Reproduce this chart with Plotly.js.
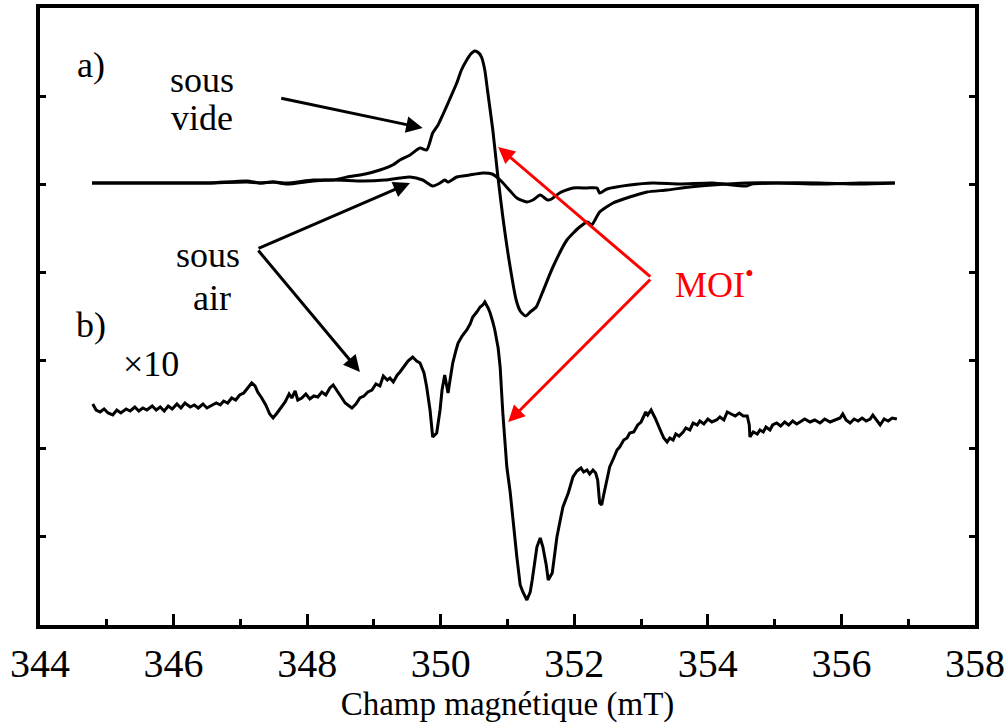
<!DOCTYPE html>
<html>
<head>
<meta charset="utf-8">
<script src="https://cdn.plot.ly/plotly-3.0.1.min.js"></script>
<style>html,body{margin:0;padding:0;background:#fff;}</style>
</head>
<body>
<div id="chart" style="width:1006px;height:724px;"></div>
<script>
// Field (mT) and intensity (arb. units)
const fieldVide = [344.78,345.35,345.95,346.54,347.10,347.29,347.49,347.70,348.09,348.39,348.60,348.87,349.09,349.28,349.39,349.54,349.69,349.79,349.88,349.96,350.03,350.13,350.24,350.31,350.39,350.45,350.51,350.57,350.61,350.66,350.70,350.78,350.85,350.93,351.03,351.13,351.19,351.27,351.34,351.43,351.52,351.68,351.89,352.08,352.20,352.26,352.38,352.58,352.83,353.09,353.39,353.73,354.07,354.58,355.07,355.67,356.27,356.80];
const signalVide = [0,0,0,0,0.2,0,0.1,0,0.3,0.3,0.6,0.9,1.3,1.8,2.3,2.8,3.5,3.3,5.0,5.8,6.8,8.3,10.0,11.3,12.3,12.9,13.2,13.0,12.6,11.3,9.3,5.3,1.0,-3.4,-8.0,-11.7,-12.8,-13.3,-12.9,-12.4,-11.0,-8.4,-5.7,-4.4,-3.9,-4.2,-2.9,-2.0,-1.4,-0.9,-0.7,-0.4,-0.2,0,0,-0.1,0,0];

const fieldAir = [344.78,345.35,345.95,346.54,347.10,347.29,347.49,347.70,348.09,348.39,348.84,349.16,349.39,349.54,349.73,349.88,349.99,350.06,350.11,350.24,350.43,350.63,350.77,350.89,351.04,351.14,351.29,351.38,351.49,351.60,351.66,351.78,351.98,352.19,352.34,352.38,352.49,352.83,353.18,353.58,354.07,354.58,354.66,355.07,355.67,356.27,356.80];
const signalAir = [0,0,0,0,0.1,0,0.1,-0.1,0.2,0.3,0.2,0.3,0.5,0.6,0.3,-0.3,0,0.3,0.1,0.6,0.8,1.0,0.9,0.3,-0.8,-1.5,-1.9,-1.7,-1.2,-1.7,-1.6,-1.0,-0.5,-0.5,-0.5,-1.0,-0.6,-0.2,0,-0.1,0,-0.3,-0.1,0,0,-0.1,0];

const fieldAirX10 = [344.79,344.84,344.90,344.96,345.02,345.09,345.15,345.21,345.29,345.35,345.42,345.48,345.54,345.60,345.68,345.74,345.80,345.86,345.92,345.98,346.05,346.11,346.17,346.25,346.31,346.37,346.44,346.50,346.58,346.64,346.70,346.75,346.81,346.87,346.93,346.99,347.05,347.11,347.17,347.22,347.26,347.32,347.38,347.44,347.49,347.55,347.61,347.67,347.73,347.77,347.82,347.86,347.92,347.98,348.04,348.10,348.16,348.22,348.28,348.34,348.39,348.45,348.51,348.57,348.63,348.67,348.73,348.79,348.85,348.91,348.97,349.03,349.09,349.14,349.20,349.24,349.29,349.35,349.39,349.45,349.51,349.58,349.64,349.69,349.75,349.79,349.84,349.88,349.94,349.99,350.02,350.06,350.11,350.14,350.18,350.23,350.26,350.32,350.39,350.44,350.48,350.54,350.59,350.63,350.66,350.71,350.74,350.78,350.81,350.86,350.89,350.93,350.96,350.99,351.04,351.07,351.11,351.14,351.19,351.23,351.29,351.34,351.37,351.41,351.44,351.49,351.53,351.58,351.61,351.67,351.71,351.74,351.79,351.83,351.91,351.98,352.04,352.10,352.14,352.19,352.23,352.28,352.32,352.35,352.38,352.41,352.44,352.49,352.53,352.59,352.64,352.68,352.74,352.79,352.83,352.89,352.95,353.00,353.03,353.07,353.10,353.15,353.21,353.25,353.30,353.34,353.39,353.43,353.48,353.52,353.57,353.63,353.67,353.73,353.78,353.84,353.88,353.94,354.00,354.06,354.13,354.18,354.24,354.29,354.35,354.41,354.47,354.53,354.59,354.62,354.63,354.68,354.74,354.78,354.83,354.87,354.93,354.97,355.03,355.09,355.15,355.21,355.27,355.33,355.38,355.45,355.53,355.60,355.68,355.75,355.83,355.90,355.98,356.02,356.07,356.13,356.19,356.25,356.31,356.37,356.43,356.47,356.53,356.58,356.64,356.70,356.76,356.83];
const signalAirX10 = [-22.1,-22.7,-22.9,-22.6,-23.0,-23.2,-22.7,-23.0,-22.6,-22.8,-22.4,-22.8,-22.5,-22.7,-22.3,-22.7,-22.4,-22.8,-22.3,-22.6,-22.1,-22.5,-22.0,-22.4,-22.2,-22.5,-22.1,-22.5,-22.2,-22.0,-22.2,-21.8,-22.0,-21.5,-21.7,-21.2,-21.0,-20.5,-20.0,-20.3,-20.9,-21.5,-22.2,-23.1,-23.5,-23.0,-22.4,-21.9,-21.1,-21.5,-20.8,-21.7,-21.5,-21.1,-21.6,-21.3,-21.4,-20.9,-21.2,-20.5,-20.2,-20.8,-21.5,-22.0,-22.3,-22.5,-22.1,-21.5,-21.3,-20.9,-20.7,-20.1,-20.3,-19.3,-19.7,-19.5,-19.9,-19.2,-18.9,-18.3,-17.8,-17.4,-17.8,-18.0,-19.0,-20.4,-22.7,-25.4,-25.0,-22.7,-20.7,-19.2,-21.0,-19.7,-18.0,-16.7,-16.0,-15.3,-14.7,-14.1,-13.4,-12.9,-12.4,-12.2,-11.9,-12.5,-13.0,-13.9,-14.7,-16.5,-18.4,-23.0,-25.7,-28.4,-30.9,-33.0,-35.2,-37.4,-40.2,-40.9,-41.7,-40.9,-39.7,-38.0,-36.4,-35.5,-36.4,-38.2,-39.7,-39.0,-37.0,-35.4,-33.7,-32.4,-31.0,-29.4,-28.8,-28.5,-28.9,-28.7,-29.1,-28.7,-29.0,-29.7,-32.0,-32.2,-31.2,-29.7,-28.4,-27.5,-26.7,-26.4,-25.7,-25.5,-25.0,-24.9,-24.2,-23.9,-23.4,-22.9,-23.2,-22.7,-23.5,-24.2,-24.9,-25.5,-25.9,-25.5,-25.7,-25.1,-25.3,-24.9,-24.5,-24.7,-24.0,-24.2,-23.8,-24.1,-23.6,-23.9,-23.7,-23.4,-23.7,-22.9,-23.1,-23.3,-23.0,-23.3,-23.3,-24.2,-25.4,-24.9,-25.1,-24.7,-24.9,-24.4,-24.7,-24.2,-24.0,-24.3,-23.9,-24.2,-23.8,-24.1,-23.9,-23.6,-23.9,-23.7,-24.0,-23.6,-23.9,-23.7,-23.5,-23.1,-23.7,-24.0,-23.6,-23.8,-23.5,-23.8,-23.6,-23.2,-23.7,-24.2,-23.6,-23.8,-23.5,-23.6];

const xTickVals = [344,346,348,350,352,354,356,358];

const serif = '"Liberation Serif", "Times New Roman", Times, serif';
const blk = {color:'#000', width:3};

const traces = [
  {x: fieldVide, y: signalVide, type:'scatter', mode:'lines', line:Object.assign({shape:'spline', smoothing:0.6}, blk), hoverinfo:'skip'},
  {x: fieldAir, y: signalAir, type:'scatter', mode:'lines', line:Object.assign({shape:'spline', smoothing:0.6}, blk), hoverinfo:'skip'},
  {x: fieldAirX10, y: signalAirX10, type:'scatter', mode:'lines', line:blk, hoverinfo:'skip'}
];

function txt(x, y, text, color, xanchor) {
  return {x:x, y:y, xref:'x', yref:'y', text:text, showarrow:false,
          xanchor: xanchor || 'center', yanchor:'middle',
          font:{family:serif, size:36, color: color || '#000'}};
}
function arrow(x, y, ax, ay, color) {
  return {x:x, y:y, ax:ax, ay:ay, xref:'x', yref:'y', axref:'x', ayref:'y',
          text:'', showarrow:true, arrowhead:2, arrowsize:1.1, arrowwidth:3,
          arrowcolor: color, standoff:0, startstandoff:0};
}

const annotations = [
  txt(344.76, 11.8, 'a)'),
  txt(344.76, -14.2, 'b)'),
  txt(345.66, -18.1, '×10'),
  txt(346.43, 10.3, 'sous'),
  txt(346.43, 6.5, 'vide'),
  txt(346.51, -7.2, 'sous'),
  txt(346.57, -11.5, 'air'),
  txt(354.10, -9.9, 'MOI<sup>•</sup>', '#ff0000'),
  arrow(349.73, 5.5, 347.59, 8.5, '#000'),
  arrow(349.54, 0.0, 347.25, -6.6, '#000'),
  arrow(348.79, -18.9, 347.25, -6.6, '#000'),
  arrow(350.86, 3.6, 353.16, -9.5, '#ff0000'),
  arrow(351.01, -23.9, 353.16, -9.5, '#ff0000')
];

const layout = {
  width:1006, height:724,
  margin:{l:40, r:31, t:8, b:99},
  paper_bgcolor:'#fff', plot_bgcolor:'#fff',
  showlegend:false,
  xaxis:{
    range:[344,358], tickvals:xTickVals, ticks:'inside', ticklen:11, tickwidth:3, tickcolor:'#000',
    showline:true, linewidth:4, linecolor:'#000', mirror:true,
    showgrid:false, zeroline:false,
    tickfont:{family:serif, size:40, color:'#000'}, ticklabeloverflow:'allow',
    minor:{dtick:1, tick0:344, ticks:'inside', ticklen:6, tickwidth:3, tickcolor:'#000', showgrid:false},
    title:{text:'Champ magnétique (mT)', font:{family:serif, size:33, color:'#000'}, standoff:8}
  },
  yaxis:{
    range:[-44.2,17.5], tick0:-0.13, dtick:8.814, ticks:'inside', ticklen:6, tickwidth:3, tickcolor:'#000',
    showticklabels:false, showline:true, linewidth:4, linecolor:'#000', mirror:'ticks',
    showgrid:false, zeroline:false
  },
  annotations: annotations
};

Plotly.newPlot('chart', traces, layout, {staticPlot:true, displayModeBar:false});
</script>
</body>
</html>
